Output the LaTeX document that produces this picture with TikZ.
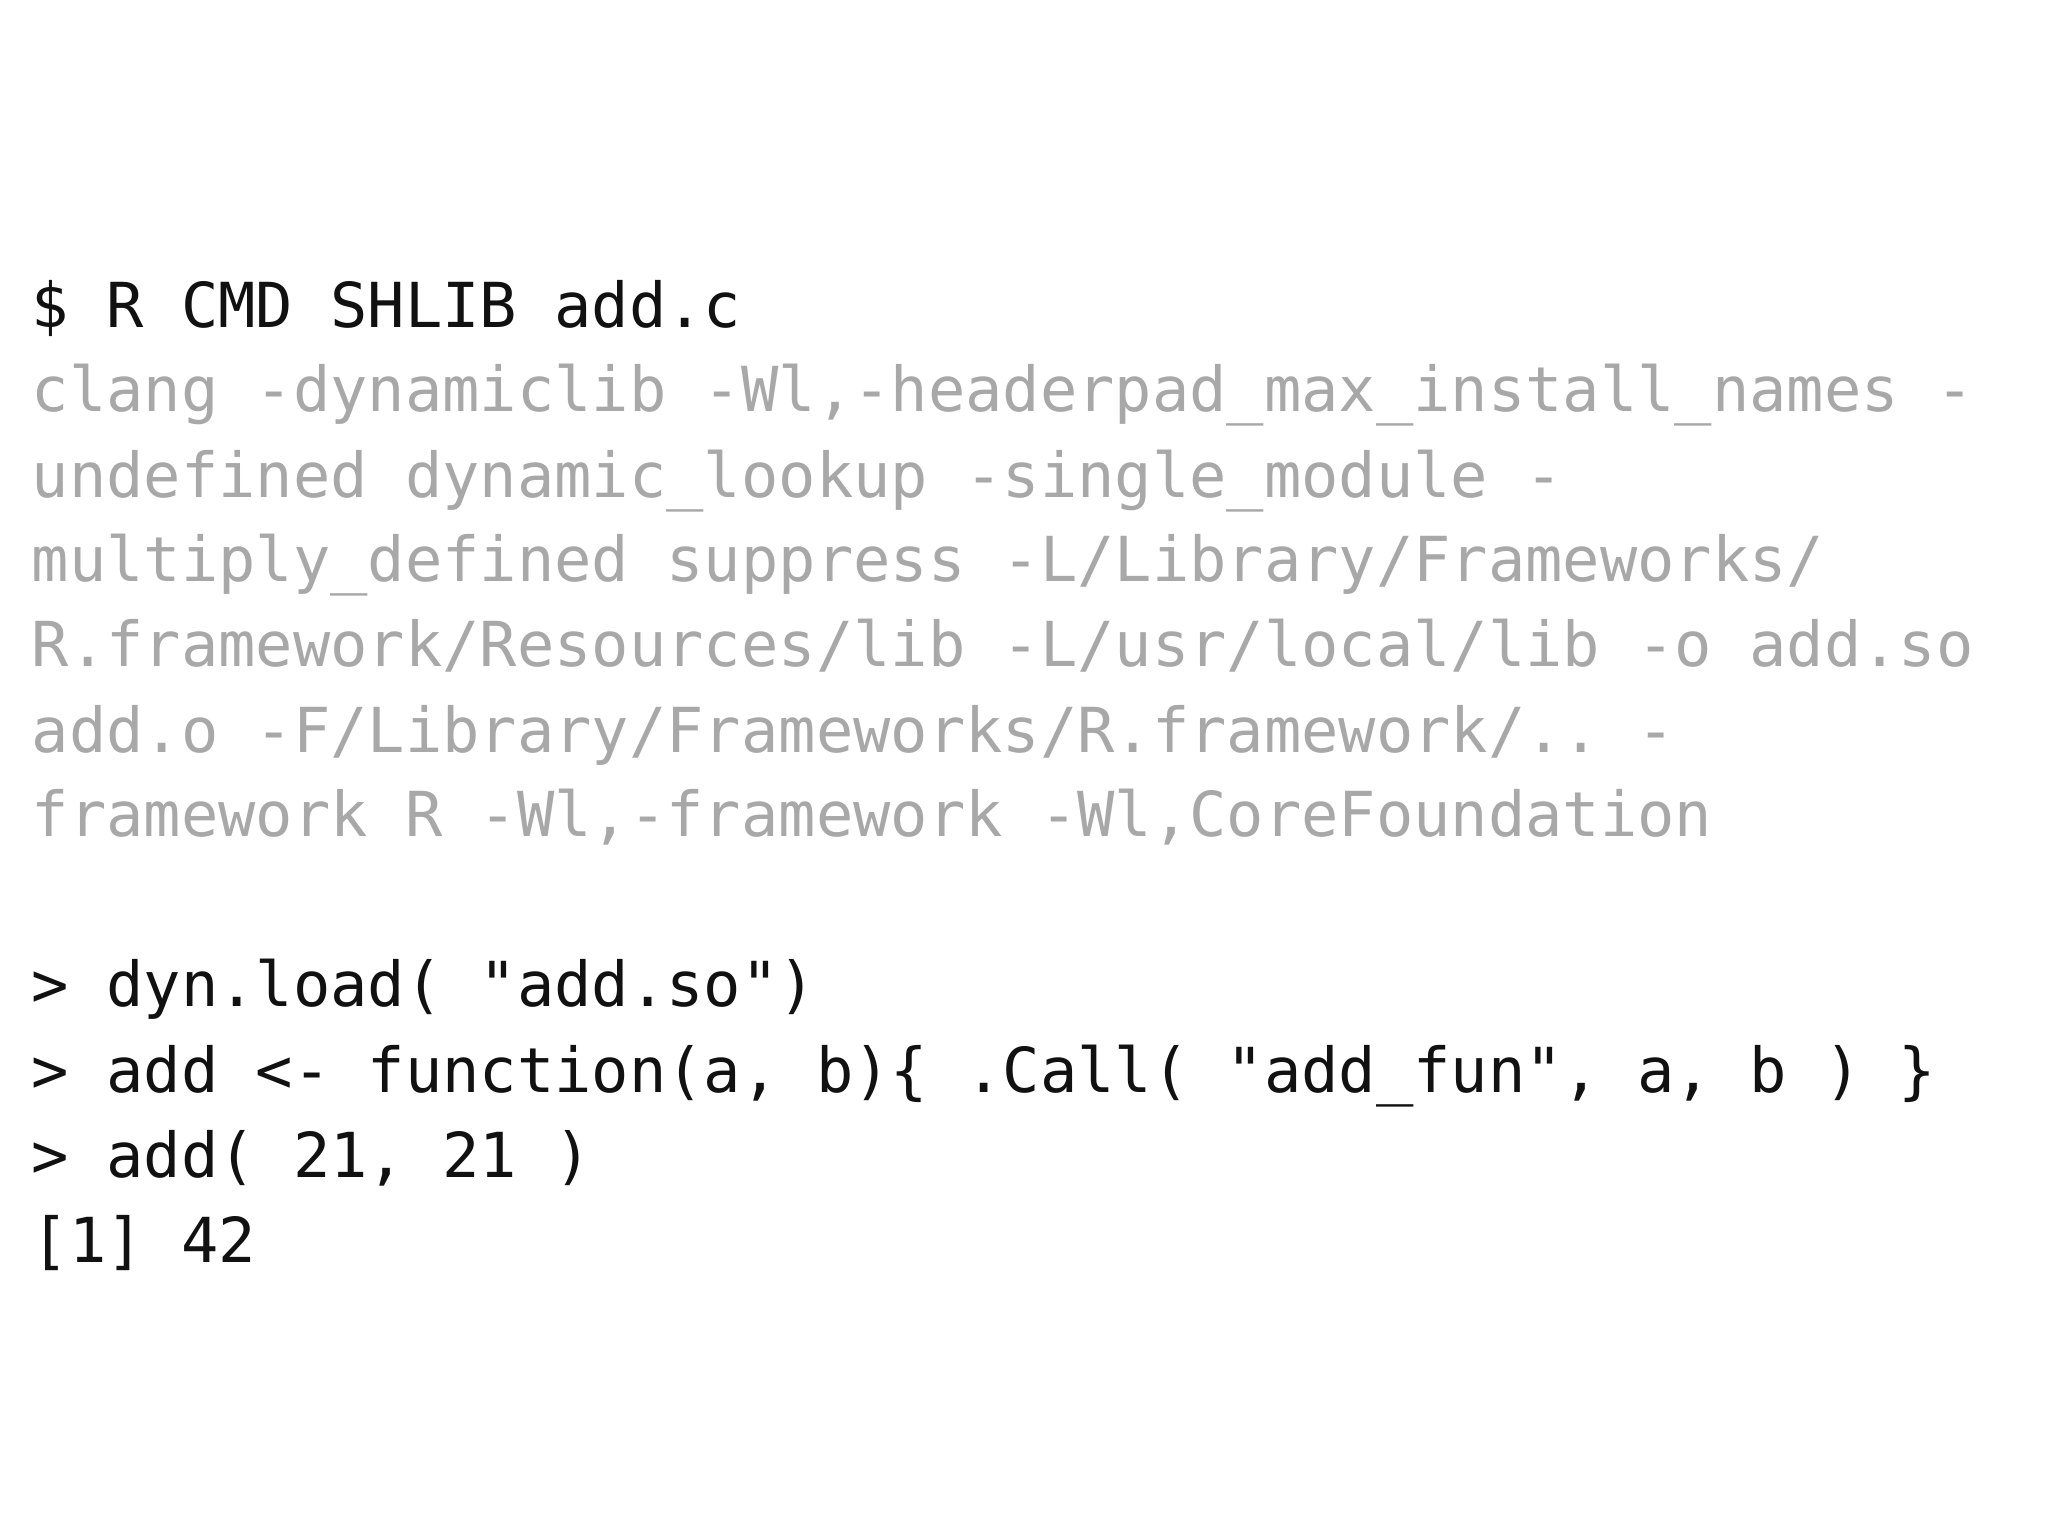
\documentclass[tikz,border=0pt]{standalone}
\usepackage{fontspec}
\setmonofont{DejaVu Sans Mono}
\definecolor{dim}{HTML}{A8A8A8}
\definecolor{ink}{HTML}{111111}
\tikzset{ln/.style={anchor=base west,inner sep=0pt,font=\fontsize{47}{47}\selectfont\ttfamily}}
\begin{document}
\begin{tikzpicture}[x=1pt,y=1pt]
\useasboundingbox (0,0) rectangle (1552,1164);
\node[ln,text=ink] (l1) at (24,916) {\$ R CMD SHLIB add.c};
\node[ln,text=dim] (l2) at (24,852) {clang -dynamiclib -Wl,-headerpad\_max\_install\_names -};
\node[ln,text=dim] (l3) at (24,787) {undefined dynamic\_lookup -single\_module -};
\node[ln,text=dim] (l4) at (24,723) {multiply\_defined suppress -L/Library/Frameworks/};
\node[ln,text=dim] (l5) at (24,659) {R.framework/Resources/lib -L/usr/local/lib -o add.so};
\node[ln,text=dim] (l6) at (24,594) {add.o -F/Library/Frameworks/R.framework/.. -};
\node[ln,text=dim] (l7) at (24,530) {framework R -Wl,-framework -Wl,CoreFoundation};
\node[ln,text=ink] (l8) at (24,401) {> dyn.load( "add.so")};
\node[ln,text=ink] (l9) at (24,336) {> add <- function(a, b)\{ .Call( "add\_fun", a, b ) \}};
\node[ln,text=ink] (l10) at (24,272) {> add( 21, 21 )};
\node[ln,text=ink] (l11) at (24,207) {[1] 42};
\end{tikzpicture}
\end{document}
